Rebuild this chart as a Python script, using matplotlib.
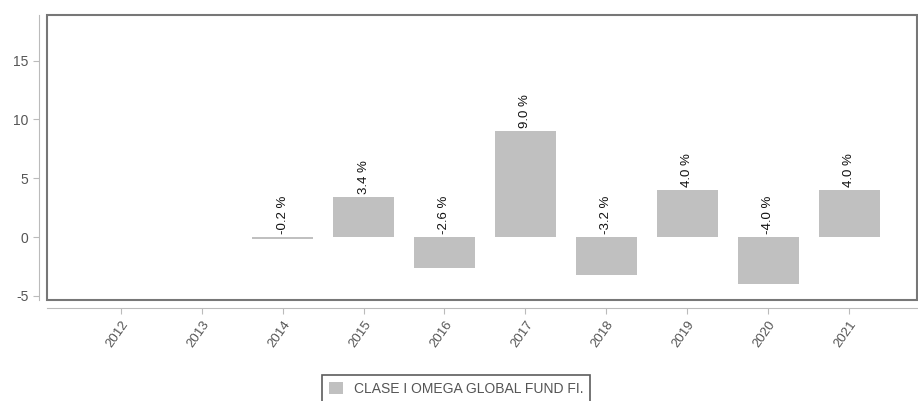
import numpy as np
import matplotlib
matplotlib.use("Agg")
from matplotlib import pyplot as plt
from matplotlib.patches import Rectangle

# データ
years = ["2012", "2013", "2014", "2015", "2016", "2017", "2018", "2019", "2020", "2021"]
values = [np.nan, np.nan, -0.2, 3.4, -2.6, 9.0, -3.2, 4.0, -4.0, 4.0]
labels = ["", "", "-0.2 %", "3.4 %", "-2.6 %", "9.0 %", "-3.2 %", "4.0 %", "-4.0 %", "4.0 %"]
series_name = "CLASE I OMEGA GLOBAL FUND FI."
y_ticks = [-5, 0, 5, 10, 15]

plt.rcParams['font.family'] = ['Liberation Sans', 'DejaVu Sans']
plt.rcParams['axes.unicode_minus'] = False

fig = plt.figure(figsize=(9.18, 4.01), dpi=100)
ax = fig.add_axes([0.0512, 0.252, 0.948, 0.711])

x = np.arange(len(years))
vals = np.array(values, dtype=float)
bars = ax.bar(x, np.nan_to_num(vals), width=0.75, color="#c0c0c0", label=series_name)

# 値ラベル
for xi, v, lab in zip(x, vals, labels):
    if np.isnan(v):
        continue
    ax.annotate(lab, (xi, max(v, 0)), xytext=(0, 2), textcoords="offset points",
                rotation=90, ha="center", va="bottom", fontsize=9.5, color="#111111")

ax.set_xlim(-0.91, 9.84)
ax.set_ylim(-5.35, 18.9)
ax.set_yticks(y_ticks)
ax.set_xticks(x)
ax.set_xticklabels(years)

# 軸
for s in ["top", "right"]:
    ax.spines[s].set_visible(False)
ax.spines["left"].set_position(("outward", 6))
ax.spines["bottom"].set_position(("outward", 6))
ax.spines["left"].set_color("#bbbbbb")
ax.spines["bottom"].set_color("#bbbbbb")
ax.tick_params(axis="both", colors="#bbbbbb", labelcolor="#555555", labelsize=10, length=4)
ax.tick_params(axis="x", labelsize=9.5, labelrotation=55)
for t in ax.get_xticklabels():
    t.set_ha("right")
    t.set_rotation_mode("anchor")

# 枠
frame = Rectangle((0, 0), 1, 1, transform=ax.transAxes, fill=False,
                  edgecolor="#777777", linewidth=1.5, clip_on=False, zorder=5)
ax.add_patch(frame)

leg = fig.legend(handles=[bars], labels=[series_name], loc="upper center",
                 bbox_to_anchor=(0.497, 0.083), fontsize=10, frameon=True,
                 fancybox=False, handlelength=1.0, handleheight=1.0,
                 borderpad=0.5, labelcolor="#555555")
leg.get_frame().set_edgecolor("#333333")
leg.get_frame().set_linewidth(1.2)

fig.savefig("out.png", dpi=100)
